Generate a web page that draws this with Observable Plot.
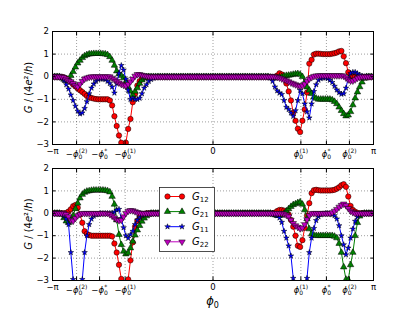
<!DOCTYPE html>
<html><head><meta charset="utf-8">
<script src="https://cdn.jsdelivr.net/npm/d3@7"></script>
<script src="https://cdn.jsdelivr.net/npm/@observablehq/plot@0.6"></script>
<style>
html,body{margin:0;padding:0;background:#fff;}
#chart{position:relative;width:415px;height:312px;font-family:"DejaVu Sans",sans-serif;background:#fff;}
#chart svg{position:absolute;left:0;overflow:visible;}
</style></head><body><div id="chart"></div>
<script>
// ---------- data ----------
const phiSamples = d3.range(141).map(i => -Math.PI + (i * 2 * Math.PI) / 140);
const phi1 = 1.72, phiStar = 2.22, phi2 = 2.67;
const xTickValues = [-Math.PI, -phi2, -phiStar, -phi1, 0, phi1, phiStar, phi2, Math.PI];
const xTickLabels = ["−π", "−ϕ0(2)", "−ϕ0*", "−ϕ0(1)", "0", "ϕ0(1)", "ϕ0*", "ϕ0(2)", "π"];
const yTickValues = [2, 1, 0, -1, -2, -3];
const yTickLabels = ["2", "1", "0", "−1", "−2", "−3"];
const yGridValues = [1, 0, -1, -2];
const seriesNames = ["G12", "G21", "G11", "G22"];
const yAxisLabel = ["G", " / (4", "e", "²/", "h", ")"];
const xAxisLabel = ["ϕ", "0"];

const top12 = [0,0,0,0,0,-0.03,-0.09,-0.16,-0.24,-0.34,
 -0.43,-0.52,-0.6,-0.68,-0.76,-0.85,-0.9,-0.94,-0.97,-0.99,
 -1,-1,-1,-1,-1,-1.05,-1.27,-1.75,-2.18,-2.6,
 -2.92,-3.4,-2.92,-2.31,-1.87,-1.13,-0.76,-0.39,-0.2,-0.1,
 -0.04,0,0,0,0,0,0,0,0,0,
 0,0,0,0,0,0,0,0,0,0,
 0,0,0,0,0,0,0,0,0,0,
 0,0,0,0,0,0,0,0,0,0,
 0,0,0,0,0,0,0,0,0,0,
 0,0,0,0,0,0,0,0,0.05,0.15,
 0.1,-0.05,-0.3,-0.65,-1.05,-1.6,-1.95,-2.3,-2.45,-1.95,
 -1.45,-0.7,0.58,0.75,0.98,1.02,1.02,1.01,1,1,
 1,1,1.02,1.04,1.07,1.12,1.14,0.9,0.6,0.2,
 0.05,0,0,0,0,0,0,0,0,0,
 0];
const top21 = [0,0,0,0,-0.05,-0.12,-0.18,-0.2,0.05,0.22,
 0.42,0.6,0.72,0.84,0.92,0.97,1,1.01,1.02,1.02,
 1.02,1.02,1.01,1,0.97,0.88,0.72,0.5,0.25,0.12,
 0.05,-0.05,-0.22,-0.45,-0.65,-0.8,-0.65,-0.5,-0.3,-0.15,
 -0.06,-0.02,0,0,0,0,0,0,0,0,
 0,0,0,0,0,0,0,0,0,0,
 0,0,0,0,0,0,0,0,0,0,
 0,0,0,0,0,0,0,0,0,0,
 0,0,0,0,0,0,0,0,0,0,
 0,0,0,0,0,-0.03,-0.05,-0.05,-0.05,-0.03,
 0,0.03,0.05,0.06,0.08,0.1,0.12,0.13,0.1,0,
 -0.25,-0.46,-0.6,-0.75,-0.9,-0.96,-1,-1,-1,-1,
 -1,-1,-1.03,-1.1,-1.2,-1.35,-1.5,-1.64,-1.74,-1.7,
 -1.55,-1.25,-0.95,-0.68,-0.45,-0.24,-0.08,0,0,0,
 0];
const top11 = [0,0,0,0,-0.05,-0.16,-0.35,-0.54,-0.8,-1.05,
 -1.3,-1.52,-1.64,-1.6,-1.4,-1.1,-0.75,-0.5,-0.32,-0.2,
 -0.12,-0.1,-0.1,-0.12,-0.2,-0.3,-0.45,-0.72,-0.3,0.15,
 0.5,0.3,-0.1,-0.6,-1,-0.95,-1,-1,-0.95,-0.75,
 -0.5,-0.35,-0.2,-0.12,-0.06,-0.02,0,0,0,0,
 0,0,0,0,0,0,0,0,0,0,
 0,0,0,0,0,0,0,0,0,0,
 0,0,0,0,0,0,0,0,0,0,
 0,0,0,0,0,0,0,0,0,0,
 0,0,0,0,0,-0.05,-0.2,-0.45,-0.62,-0.72,
 -0.78,-1.05,-1.35,-1.45,-1.6,-1.75,-1.5,-1.05,-0.6,-0.75,
 -1.2,-1.55,-1.82,-1.2,-0.65,-0.35,-0.15,-0.08,-0.05,-0.05,
 -0.08,-0.15,-0.25,-0.42,-0.58,-0.7,-0.77,-0.75,-0.5,-0.05,
 0.15,0.2,0.2,0.14,0.08,0.03,0,0,0,0,
 0];
const top22 = [0,0,0,0,0,-0.03,-0.1,-0.17,-0.22,-0.3,
 -0.39,-0.45,-0.33,-0.2,-0.1,-0.05,-0.02,0,0,0,
 0,0,0,0,0,0,-0.06,-0.13,-0.2,-0.27,
 -0.33,-0.37,-0.4,-0.33,-0.22,-0.1,0.03,0.1,0.1,0.07,
 0.05,0.03,0.01,0,0,0,0,0,0,0,
 0,0,0,0,0,0,0,0,0,0,
 0,0,0,0,0,0,0,0,0,0,
 0,0,0,0,0,0,0,0,0,0,
 0,0,0,0,0,0,0,0,0,0,
 0,0,0,0,0,0,0,0,-0.02,-0.05,
 -0.09,-0.13,-0.17,-0.22,-0.27,-0.31,-0.35,-0.39,-0.42,-0.4,
 -0.32,-0.2,-0.1,-0.03,0.02,0.04,0.05,0.05,0.05,0.05,
 0.05,0.05,0.05,0.05,0.05,0.05,0.05,0.03,-0.05,-0.13,
 -0.18,-0.18,-0.13,-0.06,-0.02,0,0,0,0,0,
 0];

const bot12 = [0,0,0,0,0,0,0.02,0.08,0.18,0.32,
 0.37,0.25,-0.05,-0.42,-0.8,-0.92,-0.97,-1,-1,-1,
 -1,-1,-1,-1,-1,-1,-1.03,-1.35,-1.75,-2.3,
 -2.93,-3.5,-3.5,-2.95,-2.1,-1.3,-0.6,-0.33,-0.15,-0.06,
 -0.02,0,0,0,0,0,0,0,0,0,
 0,0,0,0,0,0,0,0,0,0,
 0,0,0,0,0,0,0,0,0,0,
 0,0,0,0,0,0,0,0,0,0,
 0,0,0,0,0,0,0,0,0,0,
 0,0,0,0,0,0,0,0.03,0.1,0.15,
 0.15,0.12,0.05,-0.05,-0.3,-0.6,-1,-1.45,-1.5,-1.2,
 -0.65,-0.1,0.45,0.9,1.03,1.05,1.03,1.02,1.02,1.02,
 1.02,1.02,1.03,1.05,1.1,1.16,1.25,1.3,1.18,0.75,
 0.33,0.15,0.07,0.02,0,0,0,0,0,0,
 0];
const bot21 = [0,0,0,0,-0.05,-0.2,-0.35,-0.42,-0.3,-0.1,
 0.2,0.45,0.68,0.84,0.93,0.98,1,1.02,1.03,1.03,
 1.03,1.03,1.03,1.02,1,0.95,0.75,0.4,-0.3,-0.95,
 -1.4,-1.7,-1.82,-1.77,-1.55,-1.25,-0.98,-0.75,-0.55,-0.36,
 -0.22,-0.12,-0.05,0,0,0,0,0,0,0,
 0,0,0,0,0,0,0,0,0,0,
 0,0,0,0,0,0,0,0,0,0,
 0,0,0,0,0,0,0,0,0,0,
 0,0,0,0,0,0,0,0,0,0,
 0,0,0,0,0,0,-0.03,-0.07,-0.1,-0.1,
 -0.08,0,0.1,0.2,0.3,0.38,0.42,0.47,0.5,0.4,
 0.15,-0.25,-0.7,-0.92,-0.98,-1,-1,-1,-1,-1,
 -1,-1,-1,-1.03,-1.1,-1.35,-1.75,-2.4,-2.95,-2.97,
 -2.3,-1.75,-1,-0.42,-0.13,-0.03,0,0,0,0,
 0];
const bot11 = [0,0,0,0,0,-0.12,-0.25,-0.5,-1.75,-2.95,
 -3.8,-3.8,-3.8,-2.95,-1.75,-1,-0.5,-0.25,-0.12,-0.06,
 -0.03,0,0,0,0,0,0.02,0.05,0.15,0.18,
 -0.24,-0.64,-1,-1.11,-0.95,-0.8,-0.5,-0.3,-0.17,-0.08,
 -0.03,0,0,0,0,0,0,0,0,0,
 0,0,0,0,0,0,0,0,0,0,
 0,0,0,0,0,0,0,0,0,0,
 0,0,0,0,0,0,0,0,0,0,
 0,0,0,0,0,0,0,0,0,0,
 0,0,0,0,0,0,0,-0.05,-0.1,-0.2,
 -0.4,-0.8,-1.1,-1.45,-1.9,-2.9,-3.8,-3.8,-3.8,-3.8,
 -3.8,-2.9,-1.75,-1.1,-0.67,-0.32,-0.15,-0.06,-0.02,0,
 0,-0.02,-0.05,-0.1,-0.25,-0.55,-1,-1.4,-1.85,-1.55,
 -1.1,-0.7,-0.35,-0.15,-0.05,0,0,0,0,0,
 0];
const bot22 = [0,0,0,0,0,0,-0.05,-0.15,-0.3,-0.34,
 -0.22,-0.1,-0.04,0,0,0,0,0,0,0,
 0,0,0,0,0,-0.05,-0.12,-0.2,-0.28,-0.32,
 -0.3,-0.15,0,0.1,0.13,0.12,0.08,0.04,0.02,0,
 0,0,0,0,0,0,0,0,0,0,
 0,0,0,0,0,0,0,0,0,0,
 0,0,0,0,0,0,0,0,0,0,
 0,0,0,0,0,0,0,0,0,0,
 0,0,0,0,0,0,0,0,0,0,
 0,0,0,0,0,0,0,0,0,0,
 0,-0.03,-0.08,-0.15,-0.3,-0.45,-0.55,-0.62,-0.68,-0.65,
 -0.5,-0.28,-0.1,0,0,0,0,0,0,0,
 0,0,0.03,0.1,0.18,0.28,0.36,0.42,0.35,0.22,
 0.1,0.04,0,0,0,0,0,0,0,0,
 0];

// ---------- styles ----------
const symbolTriangleDown = {
  draw(context, size) {
    const y = -Math.sqrt(size / (Math.sqrt(3) * 3));
    context.moveTo(0, -y * 2);
    context.lineTo(-Math.sqrt(3) * y, y);
    context.lineTo(Math.sqrt(3) * y, y);
    context.closePath();
  }
};
const styles = {
  G12: {color: "#ff0000", symbol: d3.symbolCircle, r: 2.7},
  G21: {color: "#008000", symbol: d3.symbolTriangle, r: 2.4},
  G11: {color: "#0000ff", symbol: d3.symbolStar, r: 1.75},
  G22: {color: "#bf00bf", symbol: symbolTriangleDown, r: 2.4}
};
const gridStyle = {stroke: "#000", strokeOpacity: 0.55, strokeWidth: 0.7, strokeDasharray: "1,2"};

function panel(values, height, mt, mb) {
  const marks = [
    Plot.gridX({ticks: xTickValues.slice(1, -1), ...gridStyle}),
    Plot.gridY({ticks: yGridValues, ...gridStyle})
  ];
  seriesNames.forEach((name, k) => {
    const st = styles[name];
    const rows = phiSamples.map((x, i) => ({x, y: values[k][i]}));
    marks.push(Plot.line(rows, {x: "x", y: "y", stroke: st.color, strokeWidth: 1, clip: true}));
    marks.push(Plot.dot(rows, {x: "x", y: "y", fill: st.color, stroke: "#000", strokeWidth: 0.5, r: st.r, symbol: st.symbol, clip: true}));
  });
  marks.push(Plot.frame({stroke: "#000", strokeWidth: 1}));
  for (const anchor of ["bottom", "top"])
    marks.push(Plot.axisX({ticks: xTickValues, anchor, tickSize: -3.5, tickFormat: () => "", label: null}));
  for (const anchor of ["left", "right"])
    marks.push(Plot.axisY({ticks: yTickValues, anchor, tickSize: -3.5, tickFormat: () => "", label: null}));
  marks.push(Plot.axisX({ticks: xTickValues, anchor: "bottom", tickSize: 0, tickPadding: 3.5,
    tickFormat: d => xTickLabels[xTickValues.indexOf(d)], label: null}));
  marks.push(Plot.axisY({ticks: yTickValues, anchor: "left", tickSize: 0, tickPadding: 3.5,
    tickFormat: d => yTickLabels[yTickValues.indexOf(d)], label: null}));
  const svg = Plot.plot({
    width: 415, height, marginLeft: 52, marginRight: 42, marginTop: mt, marginBottom: mb,
    x: {domain: [-Math.PI, Math.PI]},
    y: {domain: [-3, 2]},
    style: {fontFamily: "DejaVu Sans", fontSize: "8.5px", color: "#000", background: "transparent"},
    marks
  });
  richTicks(svg);
  return svg;
}

const NS = "http://www.w3.org/2000/svg";
function addSpan(parent, txt, attrs) {
  const s = document.createElementNS(NS, "tspan");
  s.textContent = txt;
  for (const k in attrs) s.setAttribute(k, attrs[k]);
  parent.appendChild(s);
  return s;
}
function richTicks(svg) {
  svg.querySelectorAll("text").forEach(t => {
    const m = t.textContent.match(/^(−?)ϕ0(.*)$/);
    if (!m) return;
    t.textContent = "";
    if (m[1]) addSpan(t, m[1], {dy: 3});
    addSpan(t, "ϕ", m[1] ? {"font-style": "italic"} : {"font-style": "italic", dy: 3});
    addSpan(t, "0", {"font-size": "6px", dy: 2});
    addSpan(t, m[2], {"font-size": "6px", dy: -6.5, dx: -3.6});
  });
}
function yLabel(svg, cy) {
  const t = d3.select(svg).append("text")
    .attr("transform", `translate(32,${cy}) rotate(-90)`)
    .attr("text-anchor", "middle").attr("font-size", 10).attr("fill", "#000")
    .attr("font-family", "DejaVu Sans");
  yAxisLabel.forEach((p, i) => {
    const s = t.append("tspan").text(p);
    if (i % 2 === 0) s.attr("font-style", "italic");
  });
}

const chart = document.getElementById("chart");
const topSvg = panel([top12, top21, top11, top22], 158, 31, 14);
topSvg.style.top = "0px";
yLabel(topSvg, 87.5);
chart.appendChild(topSvg);

const botSvg = panel([bot12, bot21, bot11, bot22], 154, 10, 32);
botSvg.style.top = "158px";
yLabel(botSvg, 66);
const xl = d3.select(botSvg).append("text").attr("x", 212.5).attr("y", 147)
  .attr("text-anchor", "middle").attr("font-size", 11.5).attr("fill", "#000").attr("font-family", "DejaVu Sans");
xl.append("tspan").attr("font-style", "italic").text(xAxisLabel[0]);
xl.append("tspan").attr("font-size", 8).attr("dy", 2.5).text(xAxisLabel[1]);
chart.appendChild(botSvg);

// legend
const lg = d3.select(chart).append("svg").attr("width", 56).attr("height", 66)
  .style("left", "159px").style("top", "187px");
lg.append("rect").attr("x", 0.5).attr("y", 0.5).attr("width", 55).attr("height", 64)
  .attr("fill", "#fff").attr("stroke", "#222").attr("stroke-width", 0.8);
seriesNames.forEach((name, k) => {
  const st = styles[name];
  const y = 9.5 + k * 15.1;
  lg.append("line").attr("x1", 8.5).attr("x2", 23).attr("y1", y).attr("y2", y)
    .attr("stroke", st.color).attr("stroke-width", 1);
  for (const x of [8.5, 23])
    lg.append("path").attr("d", d3.symbol(st.symbol, st.r * st.r * Math.PI)())
      .attr("transform", `translate(${x},${y})`).attr("fill", st.color)
      .attr("stroke", "#000").attr("stroke-width", 0.5);
  const t = lg.append("text").attr("x", 33).attr("y", y + 3.5).attr("font-size", 10)
    .attr("fill", "#000").attr("font-family", "DejaVu Sans");
  t.append("tspan").attr("font-style", "italic").text(name[0]);
  t.append("tspan").attr("font-size", 7).attr("dy", 2).text(name.slice(1));
});
</script></body></html>
